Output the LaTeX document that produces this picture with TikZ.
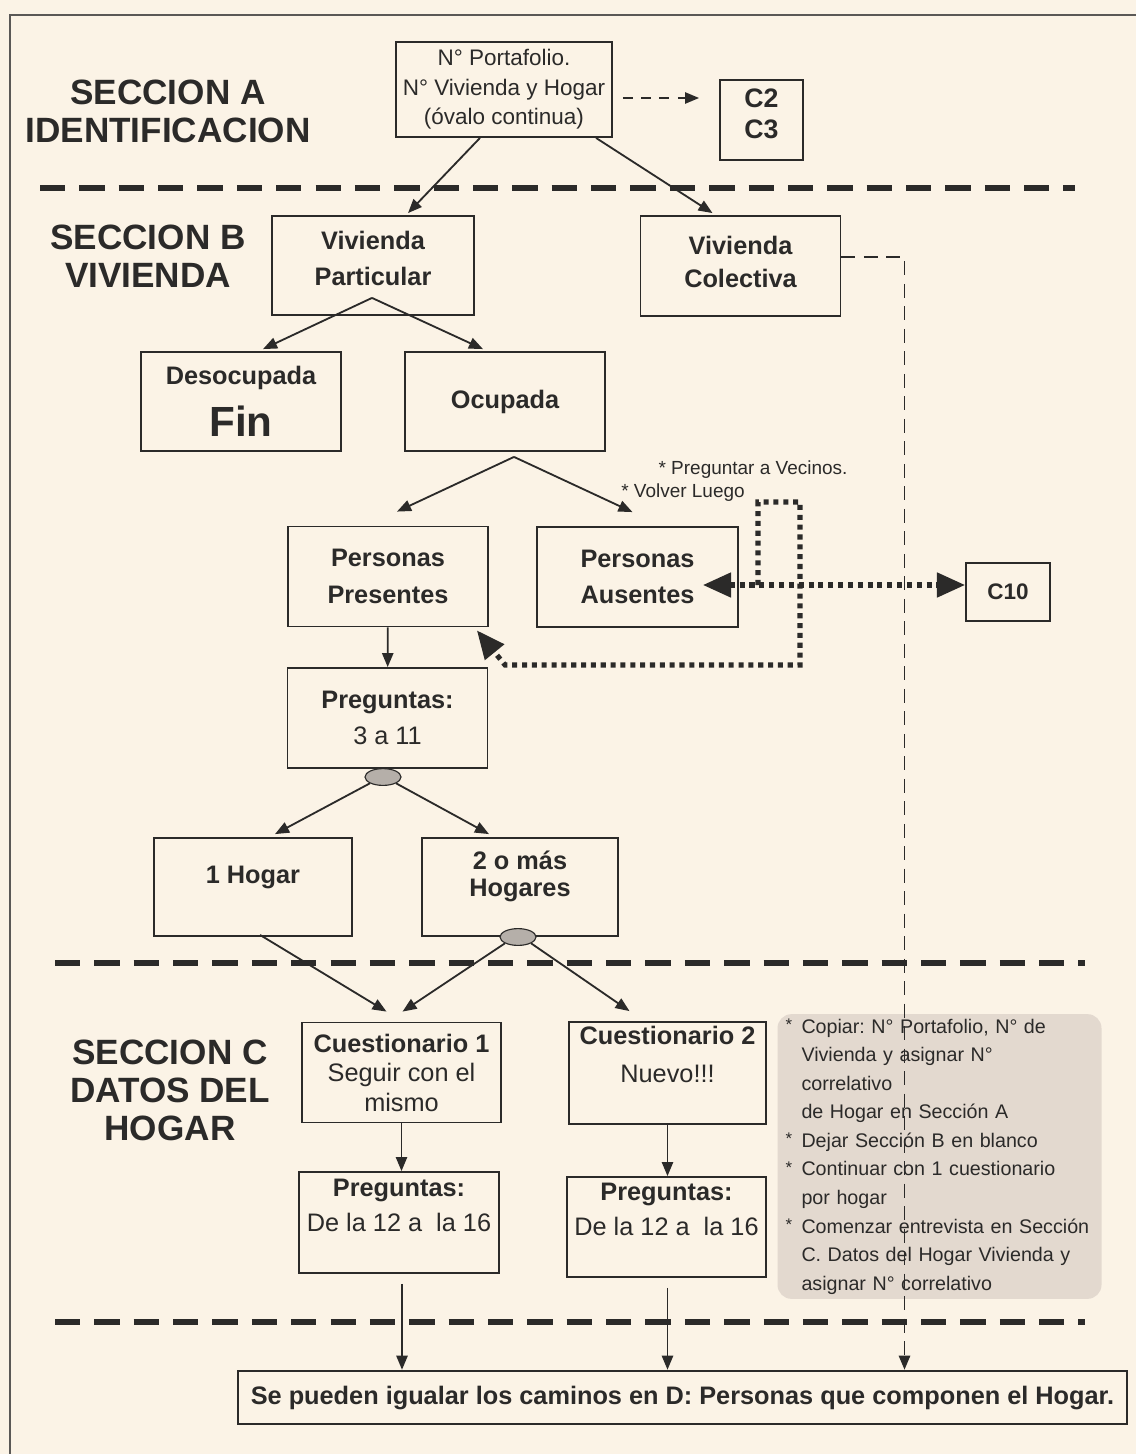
\documentclass[tikz,border=0pt]{standalone}
\usepackage{fontspec}
\setmainfont{Liberation Sans}
\usepackage{tikz}
\usetikzlibrary{arrows.meta,positioning,calc,shapes.geometric}
\definecolor{PaperCream}{HTML}{FBF3E6}
\definecolor{InkGray}{HTML}{2B2A29}
\definecolor{FrameGray}{HTML}{5A5856}
\definecolor{NoteGray}{HTML}{E3D9CF}
\definecolor{OvalGray}{HTML}{B5AFA9}
\newcommand{\nb}{\makebox[0.4cm][l]{\raisebox{2pt}{\fontsize{12}{12}\selectfont*}}}
\newcommand{\nc}{\hspace*{0.4cm}}
\frenchspacing

\begin{document}
\begin{tikzpicture}[x=0.25mm,y=-0.25mm,>={Triangle[length=10pt,width=8pt]},
    line width=1.3pt,color=InkGray,
    box/.style={draw,fill=PaperCream,minimum width=5cm,minimum height=2.5cm,
      align=center,inner sep=2pt,font=\fontsize{18}{26}\selectfont\bfseries},
    sectitle/.style={align=center,font=\fontsize{25}{27}\selectfont\bfseries},
    oval/.style={ellipse,draw,line width=0.8pt,fill=OvalGray,
      minimum width=0.9cm,minimum height=0.42cm,inner sep=0pt},
    sepline/.style={line width=4.5pt,dash pattern=on 18pt off 10pt},
    passline/.style={line width=1.4pt,dash pattern=on 10pt off 6pt},
    dotline/.style={line width=3.6pt,dash pattern=on 3.6pt off 3.4pt,
      >={Triangle[length=20pt,width=17pt]}},
    notebox/.style={fill=NoteGray,rounded corners=10pt,text width=7.7cm,
      align=left,minimum height=6.975cm,inner xsep=0.2cm,
      font=\fontsize{14}{20.3}\selectfont}]
  \useasboundingbox[fill=PaperCream] (0,0) rectangle (1136,1454);
  \draw[FrameGray,line width=1.6pt] (1136,15) -- (10,15) -- (10,1454);

  % section titles and separators
  \node[sectitle] (secA) at (168,111) {SECCION A\\IDENTIFICACION};
  \node[sectitle] (secB) at (148,256) {SECCION B\\VIVIENDA};
  \node[sectitle] (secC) at (170,1090) {SECCION C\\DATOS DEL\\HOGAR};
  \draw[sepline] (40,188) -- (1075,188);
  \draw[sepline] (55,963) -- (1085,963);
  \draw[sepline] (55,1322) -- (1085,1322);

  \node[notebox] (notas) at (939.5,1156.5) {%
    \nb Copiar: N° Portafolio, N° de\\
    \nc Vivienda y asignar N°\\
    \nc correlativo\\
    \nc de Hogar en Sección A\\
    \nb Dejar Sección B en blanco\\
    \nb Continuar con 1 cuestionario\\
    \nc por hogar\\
    \nb Comenzar entrevista en Sección\\
    \nc C. Datos del Hogar Vivienda y\\
    \nc asignar N° correlativo};

  % boxes
  \node[box,font=\fontsize{16}{21}\selectfont,minimum width=5.4cm,
        minimum height=2.375cm] (port) at (504,89.5)
        {N° Portafolio.\\N° Vivienda y Hogar\\(óvalo continua)};
  \node[box,font=\fontsize{19}{22}\selectfont\bfseries,minimum width=2.075cm,
        minimum height=2cm] (cdos) at (761.5,120) {C2\\C3\\[-13pt]~};
  \node[box,minimum width=5.05cm,minimum height=2.475cm] (vpart) at (373,265.5)
        {Vivienda\\Particular\\[-16pt]~};
  \node[box,font=\fontsize{18}{23}\selectfont\bfseries,minimum height=2.5cm]
        (vcol) at (740.5,266) {Vivienda\\Colectiva\\[-17pt]~};
  \node[box,minimum height=2.475cm] (desoc) at (241,401.5)
        {Desocupada\\[11pt]{\fontsize{30}{30}\selectfont Fin}};
  \node[box,minimum height=2.475cm] (ocup) at (505,401.5) {Ocupada};
  \node[box] (pres) at (388,576.5) {Personas\\Presentes};
  \node[box,minimum width=5.025cm] (aus) at (637.5,577) {Personas\\Ausentes};
  \node[box,font=\fontsize{16}{20}\selectfont\bfseries,minimum width=2.1cm,
        minimum height=1.45cm] (cdiez) at (1008,592) {C10};
  \node[box] (preg) at (387.5,718) {Preguntas:\\\mdseries 3 a 11};
  \node[box,minimum width=4.95cm,minimum height=2.45cm] (hogUno) at (253,887)
        {1 Hogar\\[-8pt]~};
  \node[box,font=\fontsize{18}{19}\selectfont\bfseries,minimum width=4.9cm,
        minimum height=2.45cm] (hogDos) at (520,887) {2 o más\\Hogares\\~};
  \node[box,font=\fontsize{18}{21}\selectfont\bfseries,minimum width=4.975cm]
        (cuesUno) at (401.5,1072.5)
        {Cuestionario 1\\\mdseries Seguir con el\\\mdseries mismo};
  \node[box,font=\fontsize{18}{27}\selectfont\bfseries,minimum width=4.925cm,
        minimum height=2.55cm] (cuesDos) at (667.5,1073)
        {Cuestionario 2\\\mdseries Nuevo!!!\\~};
  \node[box,font=\fontsize{18}{25}\selectfont\bfseries,minimum height=2.525cm]
        (pregUno) at (399,1222.5) {Preguntas:\\\mdseries De la 12 a\ \ la 16\\~};
  \node[box,font=\fontsize{18}{25}\selectfont\bfseries,minimum width=4.975cm]
        (pregDos) at (666.5,1227) {Preguntas:\\\mdseries De la 12 a\ \ la 16\\~};
  \node[box,line width=1.8pt,minimum width=22.225cm,minimum height=1.325cm]
        (final) at (682.5,1397.5)
        {Se pueden igualar los caminos en D: Personas que componen el Hogar.};

  \node[oval] (ovalA) at (383,777) {};
  \node[oval] (ovalB) at (518,937) {};

  \node[font=\fontsize{13.5}{15}\selectfont] (vecinos) at (753,470)
        {* Preguntar a Vecinos.};
  \node[font=\fontsize{13.5}{15}\selectfont] (luego) at (683,493)
        {* Volver Luego};

  % connectors
  \draw[->,dash pattern=on 7pt off 6pt] ($(port.east)+(10,8.5)$)
        -- ($(port.east -| cdos.west)+(-20,8.5)$);
  \draw[->] ($(port.south)+(-24,0)$) -- ($(vpart.north)+(35,-2)$);
  \draw[->] ($(port.south)+(92,0)$) -- ($(vcol.north)+(-28,-2)$);
  \draw[->] ($(vpart.south)+(-1,-18)$) -- ($(desoc.north)+(22,-2)$);
  \draw[->] ($(vpart.south)+(-1,-18)$) -- ($(ocup.north)+(-22,-2)$);
  \draw[->] ($(ocup.south)+(9,5)$) -- ($(pres.north)+(9,-14)$);
  \draw[->] ($(ocup.south)+(9,5)$) -- ($(aus.north)+(-5,-14)$);
  \draw[->] (pres) -- (preg);
  \draw[->] (ovalA.south west) -- ($(hogUno.north)+(22,-3)$);
  \draw[->] (ovalA.south east) -- ($(hogDos.north)+(-31,-3)$);
  \draw[->] ($(hogUno.south)+(7,-2)$) -- ($(cuesUno.north)+(-15,-10)$);
  \draw[->] (ovalB.south west) -- ($(cuesUno.north)+(1,-10)$);
  \draw[->] (ovalB.south east) -- ($(cuesDos.north)+(-38,-10)$);
  \draw[->] (cuesUno.south) -- (cuesUno.south |- pregUno.north);
  \draw[->] (cuesDos.south) -- (cuesDos.south |- pregDos.north);
  \draw[->] ($(pregUno.south)+(3,10)$) -- ($(pregUno.south |- final.north)+(3,0)$);
  \draw[->] ($(pregDos.south)+(1,10)$) -- ($(pregDos.south |- final.north)+(1,0)$);
  \draw[->,passline] ($(vcol.east)+(0,-9)$) -| ($(final.north)+(222,0)$);

  % dotted paths for absent persons
  \coordinate (vuelta) at (758,585);
  \draw[dotline,<->] ($(aus.east)+(-36,8)$) -- ($(cdiez.west)+(0,-7)$);
  \draw[dotline,->] (vuelta) |- (800,502) |- (505,665)
        -- ($(pres.south east)+(-12,3)$);
\end{tikzpicture}
\end{document}
